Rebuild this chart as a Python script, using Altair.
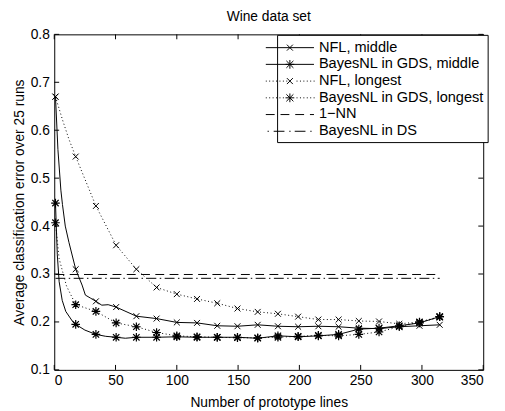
import altair as alt
import pandas as pd

FONT = "Liberation Sans"

# ---------------- data ----------------
marker_x = [1, 17.5, 34, 50.5, 67, 83.5, 100, 116.5, 133, 149.5, 166, 182.5,
            199, 215.5, 232, 248.5, 265, 281.5, 298, 314.5]

series_names = ["NFL, middle", "BayesNL in GDS, middle", "NFL, longest",
                "BayesNL in GDS, longest", "1\u2212NN", "BayesNL in DS"]

nfl_mid_x = [1, 3, 5.4, 6.7, 9, 12, 17.5, 20, 22.7, 25.4, 29.4, 34, 38.8, 44,
             50.5, 67, 83.5, 100, 116.5, 133, 149.5, 166, 182.5, 199, 215.5,
             232, 248.5, 265, 281.5, 298, 314.5]
nfl_mid_y = [0.67, 0.56, 0.475, 0.445, 0.40, 0.366, 0.310, 0.294, 0.277, 0.256,
             0.250, 0.243, 0.235, 0.236, 0.231, 0.212, 0.207, 0.199, 0.198,
             0.192, 0.191, 0.194, 0.191, 0.190, 0.191, 0.190, 0.187, 0.186,
             0.190, 0.192, 0.194]

bnl_mid_x = [1, 2.5, 4, 6.5, 9.4, 14.7, 17.5, 25, 34, 42, 50.5, 58, 67, 83.5,
             100, 116.5, 133, 149.5, 166, 182.5, 199, 215.5, 232, 248.5, 265,
             281.5, 298, 314.5]
bnl_mid_y = [0.448, 0.34, 0.284, 0.245, 0.222, 0.202, 0.195, 0.183, 0.174,
             0.170, 0.168, 0.166, 0.168, 0.168, 0.169, 0.168, 0.168, 0.168,
             0.166, 0.171, 0.169, 0.171, 0.174, 0.185, 0.187, 0.192, 0.198,
             0.211]

nfl_long_x = [1, 6.7, 12, 17.5, 34, 50.5, 67, 83.5, 100, 116.5, 133, 149.5,
              166, 182.5, 199, 215.5, 232, 248.5, 265, 281.5, 298, 314.5]
nfl_long_y = [0.67, 0.622, 0.581, 0.545, 0.442, 0.360, 0.310, 0.272, 0.258,
              0.248, 0.239, 0.228, 0.221, 0.217, 0.211, 0.205, 0.205, 0.202,
              0.201, 0.196, 0.200, 0.209]

bnl_long_x = [1, 4, 10, 17.5, 34, 50.5, 67, 83.5, 100, 116.5, 133, 149.5, 166,
              182.5, 199, 215.5, 232, 248.5, 265, 281.5, 298, 314.5]
bnl_long_y = [0.407, 0.332, 0.275, 0.236, 0.222, 0.198, 0.190, 0.178, 0.171,
              0.169, 0.168, 0.167, 0.167, 0.168, 0.170, 0.172, 0.171, 0.174,
              0.179, 0.190, 0.200, 0.211]

nn_x = [1, 314.5]
nn_y = [0.299, 0.299]
ds_x = [1, 314.5]
ds_y = [0.291, 0.291]

x_ticks = [0, 50, 100, 150, 200, 250, 300, 350]
y_ticks = [0.1, 0.2, 0.3, 0.4, 0.5, 0.6, 0.7, 0.8]

# ---------------- styling ----------------
W, H = 436, 341
X_MARK = "M-1,-1L1,1M-1,1L1,-1"
STAR_MARK = "M-1,-1L1,1M-1,1L1,-1M0,-1.35L0,1.35M-1.35,0L1.35,0"

x_enc = alt.X("x:Q", scale=alt.Scale(domain=[0, 350], nice=False, zero=False),
              axis=alt.Axis(values=x_ticks, format="d", title="Number of prototype lines",
                            labelPadding=4, titlePadding=8))
y_enc = alt.Y("y:Q", scale=alt.Scale(domain=[0.1, 0.8], nice=False, zero=False),
              axis=alt.Axis(values=y_ticks, format=".1f",
                            title="Average classification error over 25 runs",
                            labelPadding=5, titlePadding=4))


def frame(xs, ys):
    return pd.DataFrame({"x": xs, "y": ys})


def line_layer(xs, ys, dash=None):
    kw = dict(color="black", strokeWidth=1, clip=True)
    if dash is not None:
        kw["strokeDash"] = dash
    return alt.Chart(frame(xs, ys)).mark_line(**kw).encode(x=x_enc, y=y_enc)


def marker_layer(xs, ys, shape, size, sw):
    df = frame(xs, ys)
    df = df[df["x"].isin(marker_x)]
    return alt.Chart(df).mark_point(shape=shape, size=size, filled=False,
                                    color="black", strokeWidth=sw, opacity=1).encode(x=x_enc, y=y_enc)


DOT = [1, 2.6]
DASH = [9, 5.5]
DASHDOT = [10, 3.5, 1.5, 3.5]

layers = [
    line_layer(nfl_long_x, nfl_long_y, DOT),
    line_layer(bnl_long_x, bnl_long_y, DOT),
    line_layer(nn_x, nn_y, DASH),
    line_layer(ds_x, ds_y, DASHDOT),
    line_layer(nfl_mid_x, nfl_mid_y),
    line_layer(bnl_mid_x, bnl_mid_y),
    marker_layer(nfl_long_x, nfl_long_y, X_MARK, 36, 1),
    marker_layer(bnl_long_x, bnl_long_y, STAR_MARK, 42, 1.2),
    marker_layer(nfl_mid_x, nfl_mid_y, X_MARK, 36, 1),
    marker_layer(bnl_mid_x, bnl_mid_y, STAR_MARK, 42, 1.2),
]

# inward ticks on all four sides (MATLAB style)
xt = pd.DataFrame({"x": x_ticks})
yt = pd.DataFrame({"y": y_ticks})
layers += [
    alt.Chart(xt).mark_rule(color="black", strokeWidth=1).encode(x=x_enc, y=alt.value(H), y2=alt.value(H - 5)),
    alt.Chart(xt).mark_rule(color="black", strokeWidth=1).encode(x=x_enc, y=alt.value(0), y2=alt.value(5)),
    alt.Chart(yt).mark_rule(color="black", strokeWidth=1).encode(y=y_enc, x=alt.value(0), x2=alt.value(5)),
    alt.Chart(yt).mark_rule(color="black", strokeWidth=1).encode(y=y_enc, x=alt.value(W), x2=alt.value(W - 5)),
]

# ---------------- legend symbols (line sample + marker) ----------------
L = 2.75  # half length of the sample line in symbol units


def dotted(skip=0.0):
    parts = []
    p = -L
    while p < L:
        if abs(p) > skip:
            parts.append("M%.3f,0h0.11" % p)
        p += 0.39
    return "".join(parts)


def segs(pairs):
    return "".join("M%.3f,0L%.3f,0" % (a, b) for a, b in pairs)


xm = "M-0.34,-0.34L0.34,0.34M-0.34,0.34L0.34,-0.34"
sm = "M-0.4,-0.4L0.4,0.4M-0.4,0.4L0.4,-0.4M0,-0.5L0,0.5M-0.5,0L0.5,0"
sym_paths = [
    "M-%.2f,0L%.2f,0" % (L, L) + xm,
    "M-%.2f,0L%.2f,0" % (L, L) + sm,
    dotted(0.4) + xm,
    dotted(0.5) + sm,
    segs([(-2.75, -1.74), (-1.07, -0.06), (0.61, 1.62), (2.29, 2.75)]),
    segs([(-2.55, -2.4), (-1.85, -0.62), (-0.07, 0.08), (0.55, 1.78), (2.33, 2.48)]),
]

legend_df = pd.DataFrame({"series": series_names})
legend_layer = alt.Chart(legend_df).mark_point(opacity=0, filled=False, color="black").encode(
    shape=alt.Shape("series:N",
                    scale=alt.Scale(domain=series_names, range=sym_paths),
                    legend=alt.Legend(orient="none", legendX=226.5, legendY=0.5, title=None,
                                      padding=3.5, rowPadding=-0.2, symbolSize=317,
                                      symbolStrokeWidth=1, symbolStrokeColor="black",
                                      symbolFillColor="transparent", symbolOpacity=1,
                                      labelOffset=20, labelFont=FONT, labelFontSize=14.8,
                                      labelColor="black", labelLimit=400,
                                      strokeColor="black", fillColor="white"))
)
layers.append(legend_layer)

chart = alt.layer(*layers).properties(
    width=W, height=H,
    title=alt.TitleParams("Wine data set", font=FONT, fontSize=14, fontWeight="normal",
                          color="black", anchor="middle", baseline="bottom", offset=9.5,
                          frame="group", dy=20),
    autosize=alt.AutoSizeParams(type="none"),
    padding={"left": 47, "top": 23.5, "right": 14, "bottom": 38},
).configure_view(stroke="black", strokeWidth=1).configure_axis(
    grid=False, domain=False, ticks=False, labelFont=FONT, labelFontSize=14,
    labelColor="black", titleFont=FONT, titleFontSize=14, titleFontWeight="normal",
    titleColor="black"
)

chart.save("out.html", embed_options={"renderer": "svg", "actions": False})
